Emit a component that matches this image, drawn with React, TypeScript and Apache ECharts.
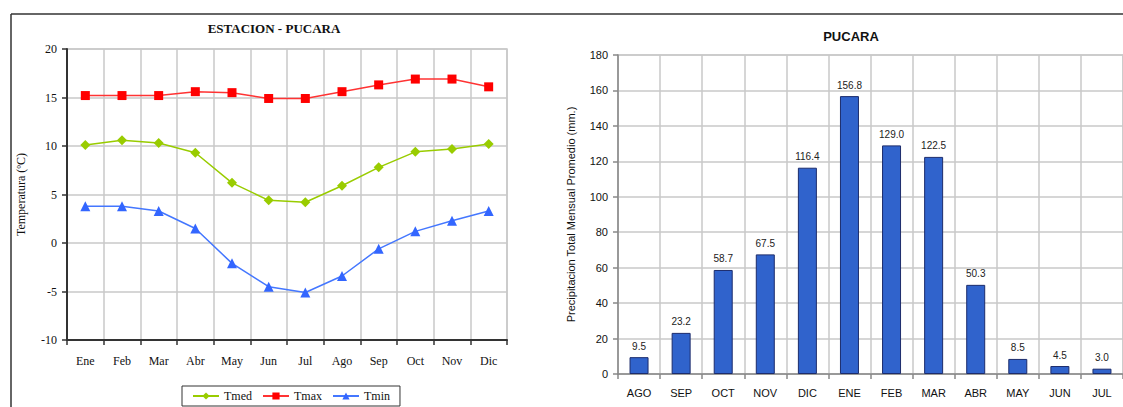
import React, { useEffect, useRef } from "react";
import * as echarts from "echarts";

const months = ["Ene", "Feb", "Mar", "Abr", "May", "Jun", "Jul", "Ago", "Sep", "Oct", "Nov", "Dic"];
const tmed = [10.1, 10.6, 10.3, 9.3, 6.2, 4.4, 4.2, 5.9, 7.8, 9.4, 9.7, 10.2];
const tmax = [15.2, 15.2, 15.2, 15.6, 15.5, 14.9, 14.9, 15.6, 16.3, 16.9, 16.9, 16.1];
const tmin = [3.8, 3.8, 3.3, 1.5, -2.1, -4.5, -5.1, -3.4, -0.6, 1.2, 2.3, 3.3];

const precipMonths = ["AGO", "SEP", "OCT", "NOV", "DIC", "ENE", "FEB", "MAR", "ABR", "MAY", "JUN", "JUL"];
const precip = [9.5, 23.2, 58.7, 67.5, 116.4, 156.8, 129.0, 122.5, 50.3, 8.5, 4.5, 3.0];

const SERIF = "'Liberation Serif', 'DejaVu Serif', serif";
const SANS = "'Liberation Sans', Arial, sans-serif";

export default function App() {
  const ref = useRef<HTMLDivElement>(null);
  useEffect(() => {
    if (!ref.current) return;
    const chart = echarts.init(ref.current, undefined, { renderer: "svg" });
    const gridLine = { show: true, lineStyle: { color: "#c8c8c8", width: 1.5 } };
    chart.setOption({
      animation: false,
      backgroundColor: "#ffffff",
      title: [
        {
          text: "ESTACION - PUCARA",
          left: 269,
          top: 17,
          textAlign: "center",
          textStyle: { fontFamily: SERIF, fontSize: 13, fontWeight: "bold", color: "#111" },
        },
        {
          text: "PUCARA",
          left: 846,
          top: 25,
          textAlign: "center",
          textStyle: { fontFamily: SANS, fontSize: 13, fontWeight: "bold", color: "#111" },
        },
      ],
      legend: {
        left: 182,
        top: 386,
        data: ["Tmed", "Tmax", "Tmin"],
        borderColor: "#333",
        borderWidth: 1,
        padding: [4, 10, 4, 10],
        itemWidth: 26,
        itemHeight: 9,
        itemGap: 10,
        textStyle: { fontFamily: SERIF, fontSize: 12, color: "#111" },
      },
      grid: [
        { left: 67, top: 49, width: 440, height: 291, show: true, borderColor: "#c8c8c8", borderWidth: 1.5 },
        { left: 618, top: 55, width: 506, height: 319, show: true, borderColor: "#c8c8c8", borderWidth: 1.5 },
      ],
      xAxis: [
        {
          type: "category",
          gridIndex: 0,
          data: months,
          boundaryGap: true,
          axisLine: { onZero: false, lineStyle: { color: "#333", width: 2 } },
          axisTick: { show: true, length: 5, lineStyle: { color: "#333", width: 1.5 } },
          axisLabel: { fontFamily: SERIF, fontSize: 12, color: "#111", margin: 15 },
          splitLine: gridLine,
        },
        {
          type: "category",
          gridIndex: 1,
          data: precipMonths,
          boundaryGap: true,
          axisLine: { onZero: false, lineStyle: { color: "#888", width: 1.5 } },
          axisTick: { show: true, length: 5, lineStyle: { color: "#888", width: 1.5 } },
          axisLabel: { fontFamily: SANS, fontSize: 11, color: "#111", margin: 13 },
          splitLine: gridLine,
        },
      ],
      yAxis: [
        {
          type: "value",
          gridIndex: 0,
          min: -10,
          max: 20,
          interval: 5,
          name: "Temperatura (ºC)",
          nameLocation: "middle",
          nameGap: 40,
          nameTextStyle: { fontFamily: SERIF, fontSize: 12, color: "#111" },
          axisLine: { show: true, lineStyle: { color: "#333", width: 2 } },
          axisTick: { show: true, length: 5, lineStyle: { color: "#333", width: 1.5 } },
          axisLabel: { fontFamily: SERIF, fontSize: 12, color: "#111", margin: 10 },
          splitLine: gridLine,
        },
        {
          type: "value",
          gridIndex: 1,
          min: 0,
          max: 180,
          interval: 20,
          name: "Precipitacion Total Mensual Promedio (mm.)",
          nameLocation: "middle",
          nameGap: 42,
          nameTextStyle: { fontFamily: SANS, fontSize: 11, color: "#111" },
          axisLine: { show: true, lineStyle: { color: "#888", width: 1.5 } },
          axisTick: { show: true, length: 5, lineStyle: { color: "#888", width: 1.5 } },
          axisLabel: { fontFamily: SANS, fontSize: 11, color: "#111", margin: 10 },
          splitLine: gridLine,
        },
      ],
      series: [
        {
          name: "Tmed",
          type: "line",
          xAxisIndex: 0,
          yAxisIndex: 0,
          data: tmed,
          symbol: "diamond",
          symbolSize: 10,
          itemStyle: { color: "#99cc00" },
          lineStyle: { color: "#99cc00", width: 1.5 },
        },
        {
          name: "Tmax",
          type: "line",
          xAxisIndex: 0,
          yAxisIndex: 0,
          data: tmax,
          symbol: "rect",
          symbolSize: 9,
          itemStyle: { color: "#ff0000" },
          lineStyle: { color: "#ff3333", width: 1.5 },
        },
        {
          name: "Tmin",
          type: "line",
          xAxisIndex: 0,
          yAxisIndex: 0,
          data: tmin,
          symbol: "triangle",
          symbolSize: 10,
          itemStyle: { color: "#3366ff" },
          lineStyle: { color: "#4477ff", width: 1.5 },
        },
        {
          name: "Precipitacion",
          type: "bar",
          xAxisIndex: 1,
          yAxisIndex: 1,
          data: precip,
          barWidth: 19,
          itemStyle: { color: "#3063cc", borderColor: "#1c2c6c", borderWidth: 1 },
          label: {
            show: true,
            position: "top",
            distance: 6,
            fontFamily: SANS,
            fontSize: 10,
            color: "#222",
            formatter: (p: any) => Number(p.value).toFixed(1),
          },
        },
      ],
      graphic: [
        { type: "line", shape: { x1: 11, y1: 14, x2: 1123, y2: 14 }, style: { stroke: "#333", lineWidth: 1.5 } },
        { type: "line", shape: { x1: 11, y1: 14, x2: 11, y2: 407 }, style: { stroke: "#333", lineWidth: 1.5 } },
      ],
    });
    return () => chart.dispose();
  }, []);
  return (
    <div
      ref={ref}
      style={{ position: "fixed", left: 0, top: 0, width: 1123, height: 407 }}
    />
  );
}
